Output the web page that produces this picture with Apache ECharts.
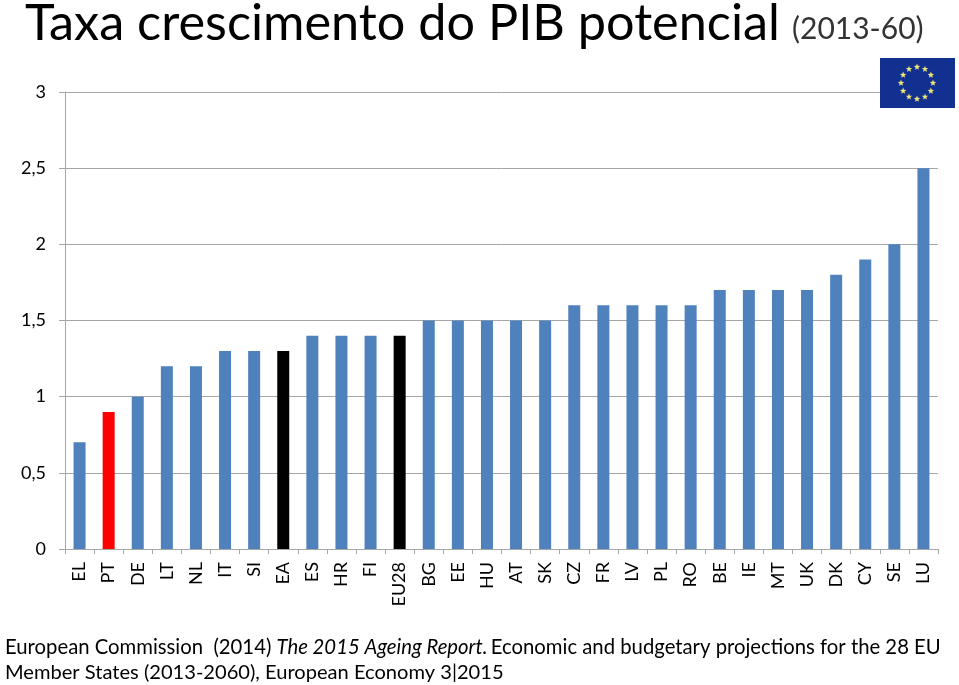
<!DOCTYPE html>
<html><head><meta charset="utf-8">
<style>html,body{margin:0;padding:0;background:#fff}#c{width:959px;height:685px}</style>
<script src="https://cdn.jsdelivr.net/npm/echarts@6/dist/echarts.min.js"></script></head>
<body><div id="c"></div>
<script>
const categories = ['EL','PT','DE','LT','NL','IT','SI','EA','ES','HR','FI','EU28','BG','EE','HU','AT','SK','CZ','FR','LV','PL','RO','BE','IE','MT','UK','DK','CY','SE','LU'];
const values = [0.7,0.9,1.0,1.2,1.2,1.3,1.3,1.3,1.4,1.4,1.4,1.4,1.5,1.5,1.5,1.5,1.5,1.6,1.6,1.6,1.6,1.6,1.7,1.7,1.7,1.7,1.8,1.9,2.0,2.5];
const highlight = {PT:'#ff0000',EA:'#000000',EU28:'#000000'};
const tickLabels = {0:'0',0.5:'0,5',1:'1',1.5:'1,5',2:'2',2.5:'2,5',3:'3'};
const FONT = 'Lato, "Open Sans", sans-serif';
function star(cx,cy,r){const p=[];for(let i=0;i<10;i++){const a=-Math.PI/2+i*Math.PI/5,q=i%2?r*0.42:r;p.push([cx+q*Math.cos(a),cy+q*Math.sin(a)]);}return p;}
const stars=[];for(let i=0;i<12;i++){const a=i*Math.PI/6;stars.push({type:'polygon',z:11,shape:{points:star(917+16*Math.sin(a),83-16*Math.cos(a),3.4)},style:{fill:'#efe67a'}});}
const chart = echarts.init(document.getElementById('c'),null,{renderer:'canvas'});
chart.setOption({
  animation:false,
  grid:{left:65,right:21,top:92,bottom:136,containLabel:false},
  xAxis:{type:'category',data:categories,boundaryGap:true,
    axisLine:{lineStyle:{color:'#a6a6a6',width:1}},
    axisTick:{show:true,alignWithLabel:false,length:5,lineStyle:{color:'#a6a6a6'}},
    axisLabel:{interval:0,rotate:90,color:'#000',fontFamily:FONT,fontSize:18,margin:13}},
  yAxis:{type:'value',min:0,max:3,interval:0.5,
    axisLine:{show:true,lineStyle:{color:'#a6a6a6',width:1}},
    axisTick:{show:true,length:6,lineStyle:{color:'#a6a6a6'}},
    splitLine:{show:true,lineStyle:{color:'#a6a6a6',width:1}},
    axisLabel:{color:'#000',fontFamily:FONT,fontSize:18,margin:19,padding:[2,0,0,0],formatter:v=>tickLabels[v]}},
  series:[{type:'bar',barWidth:12,
    data:values.map((v,i)=>({value:v,itemStyle:{color:highlight[categories[i]]||'#4f81bd'}}))}],
  graphic:[
    {type:'text',left:25,top:-1,z:10,style:{text:'Taxa crescimento do PIB potencial',font:'50.4px '+FONT,fill:'#000'}},
    {type:'text',left:792,top:14,z:10,style:{text:'(2013-60)',font:'30px '+FONT,fill:'#333'}},
    {type:'rect',z:10,shape:{x:880,y:58,width:75,height:50},style:{fill:'#12308f'}},
    ...stars,
    {type:'text',left:5,top:637,z:10,style:{rich:{a:{font:'20.3px '+FONT,fill:'#000'},b:{font:'italic 20.3px '+FONT,fill:'#000'}},text:'{a|European Commission  (2014) }{b|The 2015 Ageing Report.} {a|Economic and budgetary projections for the 28 EU}'}},
    {type:'text',left:5,top:663,z:10,style:{text:'Member States (2013-2060), European Economy 3|2015',font:'20.1px '+FONT,fill:'#000'}}
  ]
});
</script></body></html>
